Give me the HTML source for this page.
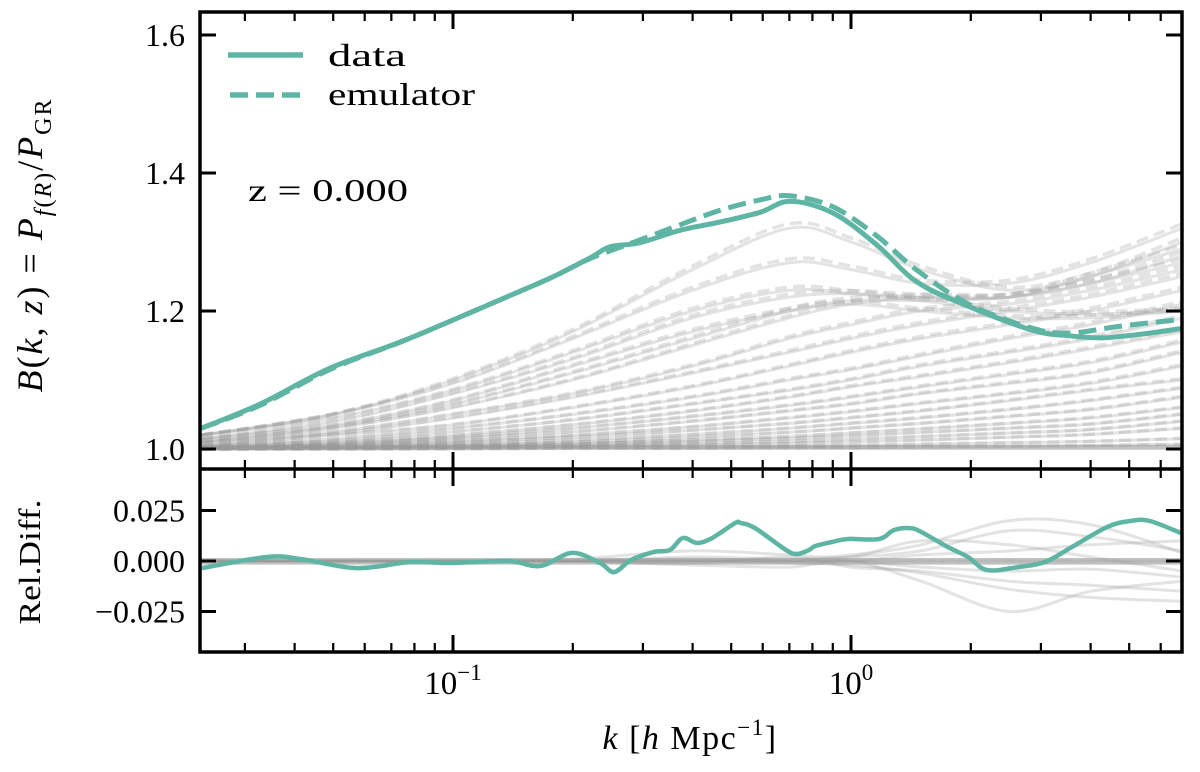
<!DOCTYPE html>
<html><head><meta charset="utf-8"><style>
html,body{margin:0;padding:0;background:#fff;}
svg{display:block;font-family:"Liberation Serif",serif;}
</style></head><body>
<svg id="chart" width="1200" height="772" viewBox="0 0 1200 772" xmlns="http://www.w3.org/2000/svg">
<g id="grey-top"></g>
<g id="grey-bot"></g>
<g id="teal"></g>
<g id="axes"></g>
<text x="248" y="201" font-size="32" textLength="160" lengthAdjust="spacingAndGlyphs">z = 0.000</text>
<g>
 <line x1="228" y1="55" x2="303" y2="55" stroke="#5fb5a3" stroke-width="5.5"/>
 <text x="328" y="66" font-size="32" textLength="78" lengthAdjust="spacingAndGlyphs">data</text>
 <line x1="230" y1="95" x2="303" y2="95" stroke="#5fb5a3" stroke-width="5.5" stroke-dasharray="18,8"/>
 <text x="328" y="105" font-size="32" textLength="147" lengthAdjust="spacingAndGlyphs">emulator</text>
</g>
<text transform="translate(42,245) rotate(-90)" text-anchor="middle" font-size="36" letter-spacing="2"><tspan font-style="italic">B</tspan>(<tspan font-style="italic">k</tspan>, <tspan font-style="italic">z</tspan>) = <tspan font-style="italic">P</tspan><tspan font-size="24" dy="9"><tspan font-style="italic">f</tspan>(<tspan font-style="italic">R</tspan>)</tspan><tspan dy="-9">/</tspan><tspan font-style="italic">P</tspan><tspan font-size="24" dy="9">GR</tspan></text>
<text transform="translate(40,562) rotate(-90)" text-anchor="middle" font-size="31" textLength="125" lengthAdjust="spacingAndGlyphs">Rel.Diff.</text>
<text x="690" y="749" text-anchor="middle" font-size="34" letter-spacing="1.5"><tspan font-style="italic">k</tspan>  [<tspan font-style="italic">h</tspan> Mpc<tspan font-size="23" dy="-14">−1</tspan><tspan dy="14">]</tspan></text>
</svg>
<script>
// ---- data ----
const dataK = [0.0233,0.0327,0.049,0.0738,0.1,0.131,0.176,0.221,0.248,0.295,0.372,0.469,0.591,0.703,0.901,1.16,1.465,1.99,2.86,3.55,4.22,4.74,5.64,6.8];
const dataB = [1.030,1.065,1.117,1.155,1.187,1.216,1.248,1.277,1.293,1.299,1.317,1.329,1.343,1.359,1.342,1.296,1.242,1.206,1.172,1.164,1.161,1.163,1.168,1.175];
const emuK = [0.0233,0.0327,0.049,0.0738,0.1,0.131,0.176,0.221,0.295,0.372,0.469,0.591,0.703,0.901,1.16,1.465,1.99,2.86,3.55,4.74,6.8];
const emuB = [1.030,1.063,1.115,1.155,1.187,1.216,1.248,1.276,1.303,1.325,1.346,1.361,1.367,1.351,1.309,1.259,1.209,1.175,1.168,1.178,1.188];
const relK = [0.0234,0.0341,0.0413,0.0574,0.078,0.0982,0.1375,0.1655,0.199,0.234,0.254,0.28,0.32,0.351,0.378,0.41,0.448,0.512,0.529,0.574,0.687,0.732,0.784,0.812,0.896,0.983,1.176,1.282,1.407,1.499,1.753,1.967,2.196,2.63,3.07,3.59,4.4,5.02,5.64,6.82];
const relV = [-0.0035,0.002,0.001,-0.0035,-0.0005,-0.001,0,-0.0025,0.004,-0.001,-0.0055,0.0005,0.0045,0.0055,0.0114,0.0089,0.0114,0.0188,0.0188,0.0163,0.0054,0.0035,0.0054,0.0074,0.0094,0.0109,0.0109,0.0153,0.0163,0.0144,0.0069,0.002,-0.0045,-0.003,-0.0005,0.0069,0.0168,0.0198,0.0198,0.0134];
const greyK = [0.0233,0.05,0.1,0.2,0.4,0.7,1,1.5,2.5,4,6.8];
const greyTop = [
 [1.02,1.05,1.10,1.17,1.26,1.32,1.30,1.26,1.23,1.25,1.30],
 [1.02,1.05,1.095,1.16,1.23,1.27,1.26,1.24,1.24,1.27,1.32],
 [1.02,1.045,1.085,1.14,1.2,1.23,1.225,1.215,1.2,1.195,1.20],
 [1.015,1.04,1.08,1.13,1.19,1.22,1.225,1.22,1.22,1.25,1.29],
 [1.015,1.035,1.07,1.12,1.17,1.2,1.21,1.2,1.19,1.19,1.2],
 [1.012,1.032,1.065,1.11,1.16,1.2,1.215,1.215,1.22,1.24,1.27],
 [1.01,1.03,1.06,1.10,1.15,1.19,1.21,1.22,1.22,1.24,1.28],
 [1.01,1.025,1.05,1.08,1.12,1.16,1.18,1.20,1.21,1.23,1.26],
 [1.008,1.022,1.045,1.075,1.11,1.14,1.16,1.18,1.2,1.22,1.25],
 [1.005,1.02,1.035,1.06,1.09,1.12,1.14,1.16,1.18,1.20,1.23],
 [1.005,1.015,1.03,1.05,1.075,1.10,1.115,1.135,1.16,1.18,1.21],
 [1.004,1.012,1.025,1.042,1.065,1.085,1.1,1.12,1.14,1.16,1.19],
 [1.003,1.01,1.02,1.035,1.055,1.075,1.09,1.105,1.125,1.145,1.17],
 [1.002,1.008,1.017,1.03,1.047,1.063,1.075,1.09,1.108,1.125,1.155],
 [1.002,1.007,1.015,1.025,1.04,1.055,1.065,1.08,1.095,1.11,1.14],
 [1.001,1.006,1.012,1.02,1.032,1.045,1.054,1.066,1.08,1.095,1.12],
 [1.001,1.005,1.01,1.017,1.027,1.037,1.045,1.055,1.07,1.085,1.10],
 [1.001,1.004,1.008,1.013,1.021,1.03,1.037,1.045,1.057,1.07,1.088],
 [1.001,1.003,1.006,1.01,1.017,1.024,1.03,1.037,1.047,1.057,1.075],
 [1,1.002,1.005,1.008,1.013,1.018,1.023,1.029,1.037,1.045,1.06],
 [1,1.002,1.004,1.007,1.011,1.015,1.019,1.024,1.03,1.036,1.05],
 [1,1.001,1.003,1.005,1.008,1.011,1.014,1.018,1.023,1.028,1.04],
 [1,1.001,1.002,1.004,1.006,1.008,1.01,1.013,1.017,1.021,1.03],
 [1,1,1.001,1.002,1.003,1.004,1.005,1.007,1.009,1.011,1.015],
 [1,1,1,1.001,1.001,1.002,1.002,1.003,1.004,1.005,1.007]
];
const greyRel = [
 [0,0,0,0,0.001,0,0.002,0.005,0.015,0.012,0.005],
 [0,0,0,0,-0.002,-0.003,0,-0.01,-0.025,-0.015,-0.01],
 [0,0,0,0.001,0.005,0.003,0.002,0.01,0.008,0.002,-0.005],
 [0,0,0,0,-0.001,0.002,-0.003,-0.005,-0.01,-0.012,-0.015],
 [0,0,0,0,0,0,0,0.003,0.005,0.008,0.01],
 [0,0,0,0,0,0,0,-0.003,-0.005,-0.004,-0.008],
 [0,0,0,0,0.002,0.001,0.003,0.008,0.02,0.018,0.004],
 [0,0,0,0,0,-0.001,-0.002,-0.006,-0.014,-0.018,-0.02],
 [0,0,0,0,0,0,0,0,0,0,0]
];
const yTicksTop = [1.0,1.2,1.4,1.6];
const yLabelsTop = ["1.0","1.2","1.4","1.6"];
const yTicksBot = [-0.025,0,0.025];
const yLabelsBot = ["−0.025","0.000","0.025"];
// ---- scales ----
const L=200,R=1182,T=12,MID=469,B=652;
const X0=851, DEC=398;
const xs = k => X0 + DEC*Math.log10(k);
const yTop = v => 449 - (v-1.0)*690;
const yBot = v => 561 - v*2020;
const NS="http://www.w3.org/2000/svg";
const svg=document.getElementById('chart');
function mk(tag,attrs,parent){const e=document.createElementNS(NS,tag);for(const a in attrs)e.setAttribute(a,attrs[a]);parent.appendChild(e);return e;}
function pathD(ks,vs,ys){
  const p=ks.map((k,i)=>[xs(k),ys(vs[i])]);
  let d='M'+p[0][0].toFixed(1)+','+p[0][1].toFixed(1);
  for(let i=0;i<p.length-1;i++){
    const p0=p[Math.max(0,i-1)],p1=p[i],p2=p[i+1],p3=p[Math.min(p.length-1,i+2)];
    const c1=[p1[0]+(p2[0]-p0[0])/6,p1[1]+(p2[1]-p0[1])/6];
    const c2=[p2[0]-(p3[0]-p1[0])/6,p2[1]-(p3[1]-p1[1])/6];
    d+=' C'+c1.map(v=>v.toFixed(1)).join(',')+' '+c2.map(v=>v.toFixed(1)).join(',')+' '+p2[0].toFixed(1)+','+p2[1].toFixed(1);
  }
  return d;
}
const defs=mk('defs',{},svg);
const c1=mk('clipPath',{id:'cTop'},defs);mk('rect',{x:L,y:T,width:R-L,height:MID-T},c1);
const c2=mk('clipPath',{id:'cBot'},defs);mk('rect',{x:L,y:MID,width:R-L,height:B-MID},c2);
const gTop=document.getElementById('grey-top');gTop.setAttribute('clip-path','url(#cTop)');
const gBot=document.getElementById('grey-bot');gBot.setAttribute('clip-path','url(#cBot)');
const gTeal=document.getElementById('teal');
greyTop.forEach((vals,i)=>{
  const s=mk('path',{d:pathD(greyK,vals,yTop),fill:'none',stroke:'#999','stroke-opacity':0.28,'stroke-width':3},gTop);
  
  
  const e=mk('path',{d:pathD(greyK,vals.map(v=>1+(v-1)*1.02),yTop),fill:'none',stroke:'#999','stroke-opacity':0.28,'stroke-width':3.5,'stroke-dasharray':'12,6'},gTop);
  
  
});
mk('rect',{x:L,y:yTop(1.006),width:R-L,height:yTop(0.999)-yTop(1.006),fill:'#999','fill-opacity':0.6},gTop);
greyRel.forEach((vals,i)=>{
  const s=mk('path',{d:pathD(greyK,vals,yBot),fill:'none',stroke:'#999','stroke-opacity':0.28,'stroke-width':3},gBot);
  
  
});
mk('rect',{x:L,y:yBot(0.0015),width:R-L,height:yBot(-0.0018)-yBot(0.0015),fill:'#999','fill-opacity':0.6},gBot);
const gt2=mk('g',{'clip-path':'url(#cTop)'},gTeal);
const dl=mk('path',{d:pathD(dataK,dataB,yTop),fill:'none',stroke:'#5fb5a3','stroke-width':5},gt2);


const el=mk('path',{d:pathD(emuK,emuB,yTop),fill:'none',stroke:'#5fb5a3','stroke-width':5,'stroke-dasharray':'18,8'},gt2);


const gb2=mk('g',{'clip-path':'url(#cBot)'},gTeal);
const rl=mk('path',{d:pathD(relK,relV,yBot),fill:'none',stroke:'#5fb5a3','stroke-width':4.5},gb2);


const ax=document.getElementById('axes');
mk('rect',{x:L,y:T,width:R-L,height:B-T,fill:'none',stroke:'#000','stroke-width':3.5},ax);
mk('line',{x1:L,y1:MID,x2:R,y2:MID,stroke:'#000','stroke-width':3.5},ax);
const xt=[];
for(let e=-2;e<=0;e++)for(let m=1;m<=9;m++){const k=m*Math.pow(10,e);const x=xs(k);if(x>L+1&&x<R-1)xt.push([x,m===1]);}
[[T,1],[MID,-1],[MID,1],[B,-1]].forEach(([y,dir])=>{
  xt.forEach(([x,maj])=>{const len=maj?17:9;const t=mk('line',{x1:x,y1:y,x2:x,y2:y+dir*len,stroke:'#000','stroke-width':maj?3:2.2},ax);
    
    });
});
[[0.1,'10','−1'],[1,'10','0']].forEach(([k,b,s])=>{
  const t=mk('text',{x:xs(k),y:694,'text-anchor':'middle','font-size':33},svg);
  
  
  t.innerHTML=b+'<tspan font-size="23" dy="-14">'+s+'</tspan>';
});
yTicksTop.forEach((v,i)=>{
  const y=yTop(v);
  mk('line',{x1:L,y1:y,x2:L+16,y2:y,stroke:'#000','stroke-width':3},ax);
  mk('line',{x1:R,y1:y,x2:R-16,y2:y,stroke:'#000','stroke-width':3},ax);
  const t=mk('text',{x:185,y:y+11,'text-anchor':'end','font-size':32},svg);
  
  
  t.textContent=yLabelsTop[i];
});
yTicksBot.forEach((v,i)=>{
  const y=yBot(v);
  mk('line',{x1:L,y1:y,x2:L+16,y2:y,stroke:'#000','stroke-width':3},ax);
  mk('line',{x1:R,y1:y,x2:R-16,y2:y,stroke:'#000','stroke-width':3},ax);
  const t=mk('text',{x:185,y:y+11,'text-anchor':'end','font-size':32},svg);
  
  
  t.textContent=yLabelsBot[i];
});
</script>
</body></html>
